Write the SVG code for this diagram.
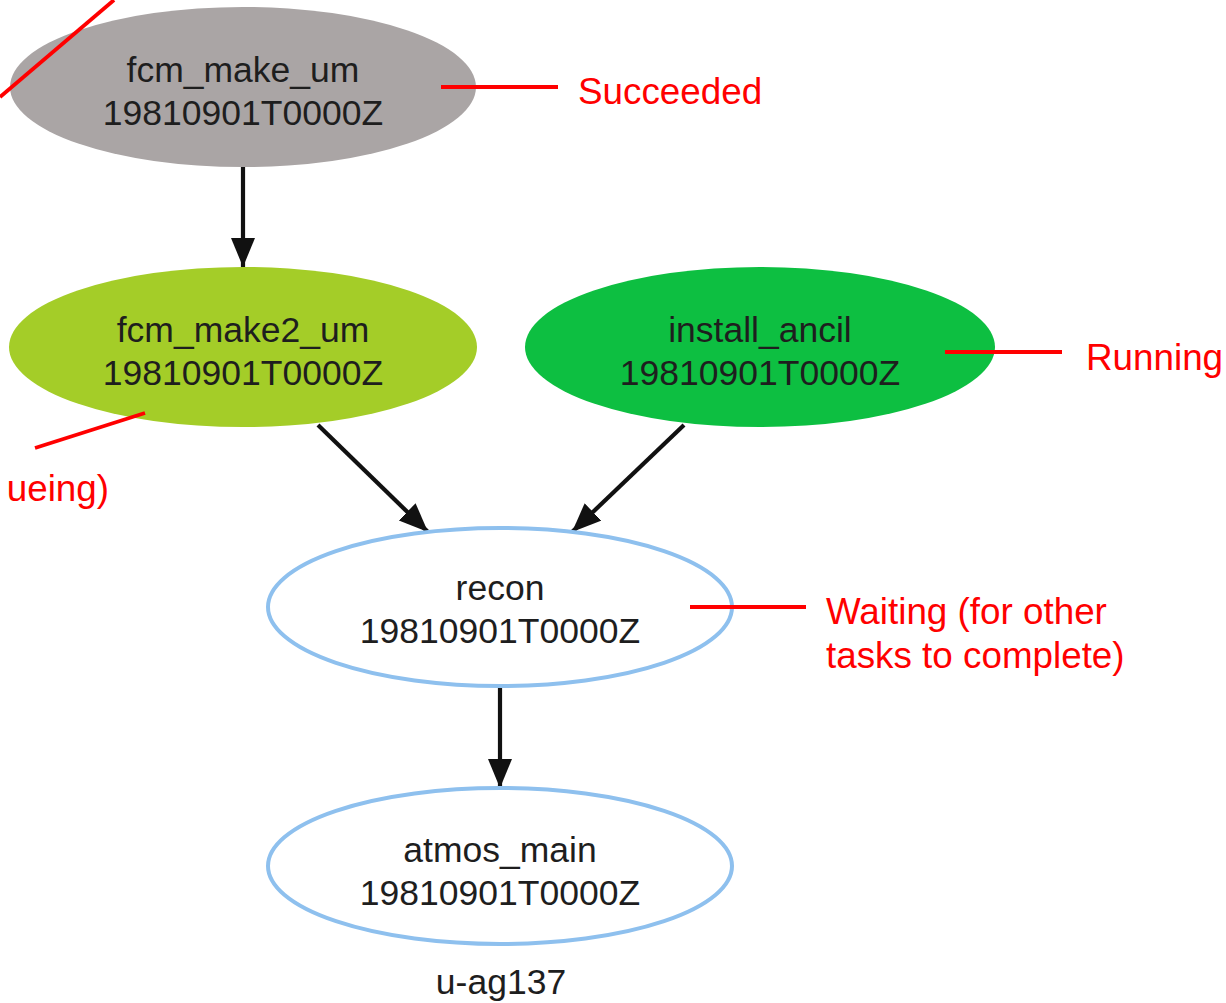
<svg xmlns="http://www.w3.org/2000/svg" width="1226" height="1003" viewBox="0 0 1226 1003">
  <defs>
    <marker id="arrow" markerUnits="userSpaceOnUse" markerWidth="32" markerHeight="26" refX="29" refY="12" orient="auto">
      <path d="M0,0 L29,12 L0,24 z" fill="#111"/>
    </marker>
    <style>
      .node-text { font-family: "Liberation Sans", Arial, sans-serif; font-size: 35.5px; fill: #1e1e1e; text-anchor: middle; }
      .note { font-family: "Liberation Sans", Arial, sans-serif; font-size: 36.8px; fill: #ff0000; }
      .note-line { stroke: #ff0000; stroke-width: 3.8; fill: none; }
      .edge { stroke: #111; stroke-width: 4.2; fill: none; marker-end: url(#arrow); }
      .waiting { fill: #ffffff; stroke: #8ec0ee; stroke-width: 4; }
    </style>
  </defs>
  <rect width="1226" height="1003" fill="#ffffff"/>

  <!-- edges -->
  <g id="edges">
    <line class="edge" x1="243" y1="167" x2="243" y2="267"/>
    <line class="edge" x1="318" y1="425" x2="428" y2="532"/>
    <line class="edge" x1="684" y1="425" x2="572" y2="532"/>
    <line class="edge" x1="500" y1="686" x2="500" y2="788"/>
  </g>

  <!-- task nodes -->
  <g id="fcm_make_um">
    <ellipse cx="243" cy="87" rx="233" ry="80" fill="#aaa5a5"/>
    <text class="node-text" x="243" y="82">fcm_make_um</text>
    <text class="node-text" x="243" y="125">19810901T0000Z</text>
  </g>
  <g id="fcm_make2_um">
    <ellipse cx="243" cy="347" rx="234" ry="80" fill="#a4cd28"/>
    <text class="node-text" x="243" y="342">fcm_make2_um</text>
    <text class="node-text" x="243" y="385">19810901T0000Z</text>
  </g>
  <g id="install_ancil">
    <ellipse cx="760" cy="347" rx="235" ry="80" fill="#0dbf41"/>
    <text class="node-text" x="760" y="342">install_ancil</text>
    <text class="node-text" x="760" y="385">19810901T0000Z</text>
  </g>
  <g id="recon">
    <ellipse class="waiting" cx="500" cy="607" rx="232" ry="79"/>
    <text class="node-text" x="500" y="600">recon</text>
    <text class="node-text" x="500" y="643">19810901T0000Z</text>
  </g>
  <g id="atmos_main">
    <ellipse class="waiting" cx="500" cy="866" rx="232" ry="78"/>
    <text class="node-text" x="500" y="862">atmos_main</text>
    <text class="node-text" x="500" y="905">19810901T0000Z</text>
  </g>
  <text class="node-text" x="501" y="994">u-ag137</text>

  <!-- state annotations -->
  <g id="annotations">
    <line class="note-line" x1="0" y1="97" x2="114" y2="0"/>
    <line class="note-line" x1="441" y1="87" x2="558" y2="87"/>
    <text class="note" x="578" y="104">Succeeded</text>
    <line class="note-line" x1="945" y1="352" x2="1062" y2="352"/>
    <text class="note" x="1086" y="370">Running</text>
    <line class="note-line" x1="145" y1="413" x2="35" y2="448"/>
    <text class="note" x="109" y="501" text-anchor="end">ueing)</text>
    <line class="note-line" x1="690" y1="607" x2="806" y2="607"/>
    <text class="note" x="826" y="624">Waiting (for other</text>
    <text class="note" x="826" y="668">tasks to complete)</text>
  </g>
</svg>
